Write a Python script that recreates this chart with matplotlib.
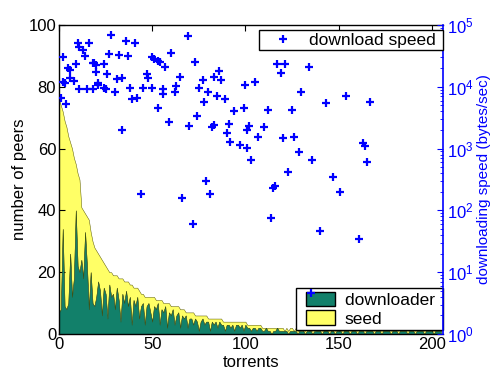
import matplotlib
matplotlib.use('Agg')
import matplotlib.pyplot as plt
from matplotlib.patches import Patch, Rectangle
from matplotlib.lines import Line2D
from matplotlib.legend_handler import HandlerPatch
from matplotlib.ticker import LogLocator, NullFormatter

plt.rcParams['font.family'] = ['Liberation Sans', 'DejaVu Sans']

# number of peers per torrent (sorted): total = downloaders + seeds
peers_total = [
    76, 74, 72, 69, 67, 64, 62, 60, 57, 55,
    52, 50, 41, 40, 39, 38, 37, 33, 30, 28,
    27, 26, 25, 24, 23, 22, 21, 20, 20, 19,
    19, 19, 18, 18, 18, 17, 17, 17, 16, 16,
    15, 15, 15, 14, 13, 13, 12, 12, 12, 12,
    12, 12, 11, 11, 11, 11, 10, 10, 10, 10,
    9, 9, 9, 9, 9, 8, 8, 8, 7, 7,
    7, 7, 7, 6, 6, 6, 6, 6, 6, 6,
    5, 5, 5, 5, 5, 5, 5, 5, 4, 4,
    4, 4, 4, 4, 4, 4, 4, 4, 4, 4,
    4, 3, 3, 3, 3, 3, 3, 3, 3, 2,
    2, 2, 2, 2, 2, 2, 2, 2, 2, 2,
    2, 1, 2, 1, 2, 2, 1, 2, 1, 1,
    2, 1, 1, 2, 1, 1, 1, 2, 1, 1,
    1, 1, 1, 1, 1, 1, 1, 1, 1, 1,
    1, 1, 1, 1, 1, 1, 1, 1, 1, 1,
    1, 1, 1, 1, 1, 1, 1, 1, 1, 1,
    1, 1, 1, 1, 1, 1, 1, 1, 1, 1,
    1, 1, 1, 1, 1, 1, 1, 1, 1, 1,
    1, 1, 1, 1, 1, 1, 1, 1, 1, 1,
    1, 1, 1, 1, 1, 1,
]

downloaders = [
    7, 8, 34, 9, 8, 10, 26, 12, 18, 40,
    22, 20, 24, 18, 33, 22, 8, 20, 10, 9,
    12, 17, 14, 6, 15, 13, 5, 16, 12, 13,
    8, 15, 11, 4, 13, 10, 14, 9, 12, 3,
    11, 9, 12, 5, 9, 10, 3, 9, 10, 7,
    4, 9, 8, 10, 3, 8, 7, 9, 2, 7,
    6, 8, 3, 6, 7, 2, 6, 5, 6, 2,
    5, 5, 3, 5, 4, 1, 4, 5, 3, 4,
    4, 1, 4, 3, 4, 2, 4, 3, 3, 1,
    3, 3, 2, 3, 1, 3, 3, 2, 3, 1,
    3, 2, 2, 1, 2, 2, 1, 2, 2, 1,
    1, 2, 1, 1, 0, 1, 1, 2, 1, 1,
    1, 1, 1, 0, 1, 1, 1, 1, 0, 1,
    1, 1, 0, 1, 1, 1, 0, 1, 1, 1,
    1, 0, 1, 1, 1, 0, 1, 1, 0, 1,
    1, 1, 0, 1, 1, 1, 0, 1, 1, 1,
    0, 1, 1, 1, 0, 1, 1, 1, 1, 0,
    1, 1, 1, 0, 1, 1, 1, 1, 0, 1,
    1, 1, 0, 1, 1, 1, 1, 0, 1, 1,
    1, 0, 1, 1, 1, 1, 0, 1, 1, 1,
    1, 0, 1, 1, 1, 1,
]

torrents = list(range(len(peers_total)))

# download speed (bytes/sec) of individual torrents
speed_torrent = [
    1, 2, 2, 3, 4, 5, 6, 6, 8, 9,
    10, 11, 11, 13, 14, 15, 16, 18, 18, 19,
    20, 20, 21, 21, 24, 24, 25, 26, 27, 28,
    30, 31, 32, 34, 34, 36, 37, 38, 39, 41,
    42, 44, 45, 47, 48, 50, 50, 51, 53, 53,
    54, 56, 56, 57, 59, 60, 62, 63, 65, 66,
    69, 70, 72, 73, 74, 75, 77, 78, 79, 80,
    81, 82, 83, 83, 85, 86, 87, 89, 90, 91,
    92, 94, 97, 99, 100, 101, 101, 102, 103, 105,
    107, 110, 112, 114, 115, 116, 117, 119, 121, 120,
    123, 125, 126, 129, 130, 134, 135, 136, 140, 143,
    147, 151, 154, 161, 163, 164, 165, 167,
]
speed_bytes = [
    6600, 30000, 12000, 11500, 5300, 20000, 18700, 13900, 12400, 23400,
    51000, 44000, 9200, 39400, 31500, 9200, 51000, 24300, 9200, 24300,
    17300, 22500, 10700, 11500, 23400, 9600, 9200, 16100, 33900, 68900,
    8200, 13400, 32700, 13900, 2000, 55100, 31500, 9600, 6350, 51100,
    6600, 184, 9600, 16100, 13900, 30300, 9600, 28200, 4540, 26100,
    25200, 9200, 7640, 20900, 2690, 35200, 8200, 10300, 14400, 159,
    66400, 2320, 60, 25200, 3370, 9600, 12900, 5680, 299, 8200,
    184, 2240, 2410, 14400, 7100, 18000, 12900, 6350, 1790, 2500,
    1280, 4060, 1140, 4540, 10700, 2000, 1020, 2320, 654, 12000,
    1540, 2240, 4210, 75, 230, 248, 23400, 16700, 23400, 1480,
    418, 4210, 1540, 881, 8200, 20900, 4.6, 654, 46, 5470,
    347, 199, 7100, 34, 1230, 1100, 607, 5680,
]

GREEN = '#12806a'
YELLOW = '#ffff66'
BLUE = '#0000ff'
FS = 12.5

fig = plt.figure(figsize=(4.94, 3.71), dpi=100)
ax1 = fig.add_axes([0.1194, 0.0997, 0.7773, 0.8329])

ax1.fill_between(torrents, downloaders, peers_total, facecolor=YELLOW,
                 edgecolor='#555500', linewidth=0.35, zorder=1)
ax1.fill_between(torrents, 0, downloaders, facecolor=GREEN,
                 edgecolor='#3a4a10', linewidth=0.35, zorder=2)

ax1.set_xlim(0, 206)
ax1.set_ylim(0, 100)
ax1.set_xticks([0, 50, 100, 150, 200])
ax1.set_yticks([0, 20, 40, 60, 80, 100])
ax1.tick_params(axis='both', direction='in', length=4, width=0.8,
                labelsize=12, top=True, right=False, pad=2)
ax1.spines['right'].set_visible(False)
for s in ['left', 'bottom', 'top']:
    ax1.spines[s].set_linewidth(1.0)
ax1.set_xlabel('torrents', fontsize=12, labelpad=2)
ax1.set_ylabel('number of peers', fontsize=12, labelpad=1)


def inset_patch(legend, orig_handle, xdescent, ydescent, width, height, fontsize):
    off = width * 0.18
    return Rectangle((-xdescent + off, -ydescent), width - off, height)


leg1 = ax1.legend(
    [Patch(facecolor=GREEN, edgecolor='black', linewidth=1.0),
     Patch(facecolor=YELLOW, edgecolor='black', linewidth=1.0)],
    ['downloader ', 'seed'], loc='lower right', bbox_to_anchor=(1.0, 0.013),
    fontsize=FS, frameon=True, fancybox=False, framealpha=1,
    edgecolor='black', borderpad=0.2, handlelength=2.04, handleheight=0.92,
    handletextpad=0.57, labelspacing=0.12, borderaxespad=0,
    handler_map={Patch: HandlerPatch(patch_func=inset_patch)})
leg1.get_frame().set_linewidth(1.0)

ax2 = ax1.twinx()
ax2.plot(speed_torrent, speed_bytes, linestyle='none', marker='+',
         markersize=5.5, markeredgewidth=1.6, color=BLUE)
ax2.set_yscale('log')
ax2.set_ylim(1, 1e5)
ax2.set_xlim(0, 206)
ax2.yaxis.set_major_locator(LogLocator(base=10, numticks=10))
ax2.yaxis.set_minor_locator(LogLocator(base=10, subs=range(2, 10), numticks=20))
ax2.yaxis.set_minor_formatter(NullFormatter())
ax2.tick_params(axis='y', which='major', direction='in', length=4, width=0.8,
                colors=BLUE, labelsize=12, pad=3)
ax2.tick_params(axis='y', which='minor', direction='in', length=2, width=0.6,
                colors=BLUE)
for s in ['left', 'bottom', 'top']:
    ax2.spines[s].set_visible(False)
ax2.spines['right'].set_color(BLUE)
ax2.spines['right'].set_linewidth(1.2)
ax2.set_ylabel('downloading speed (bytes/sec)', fontsize=11, color=BLUE,
               labelpad=2)

leg2 = ax2.legend(
    [Line2D([], [], linestyle='none', marker='+', markersize=5.5,
            markeredgewidth=1.6, color=BLUE)],
    ['download speed '], loc='upper right', bbox_to_anchor=(1.0, 0.984),
    fontsize=FS, frameon=True, fancybox=False, framealpha=1,
    edgecolor='black', borderpad=0.15, handlelength=2.46, handletextpad=0.26,
    borderaxespad=0)
leg2.get_frame().set_linewidth(1.0)

fig.savefig('out.png', dpi=100)
